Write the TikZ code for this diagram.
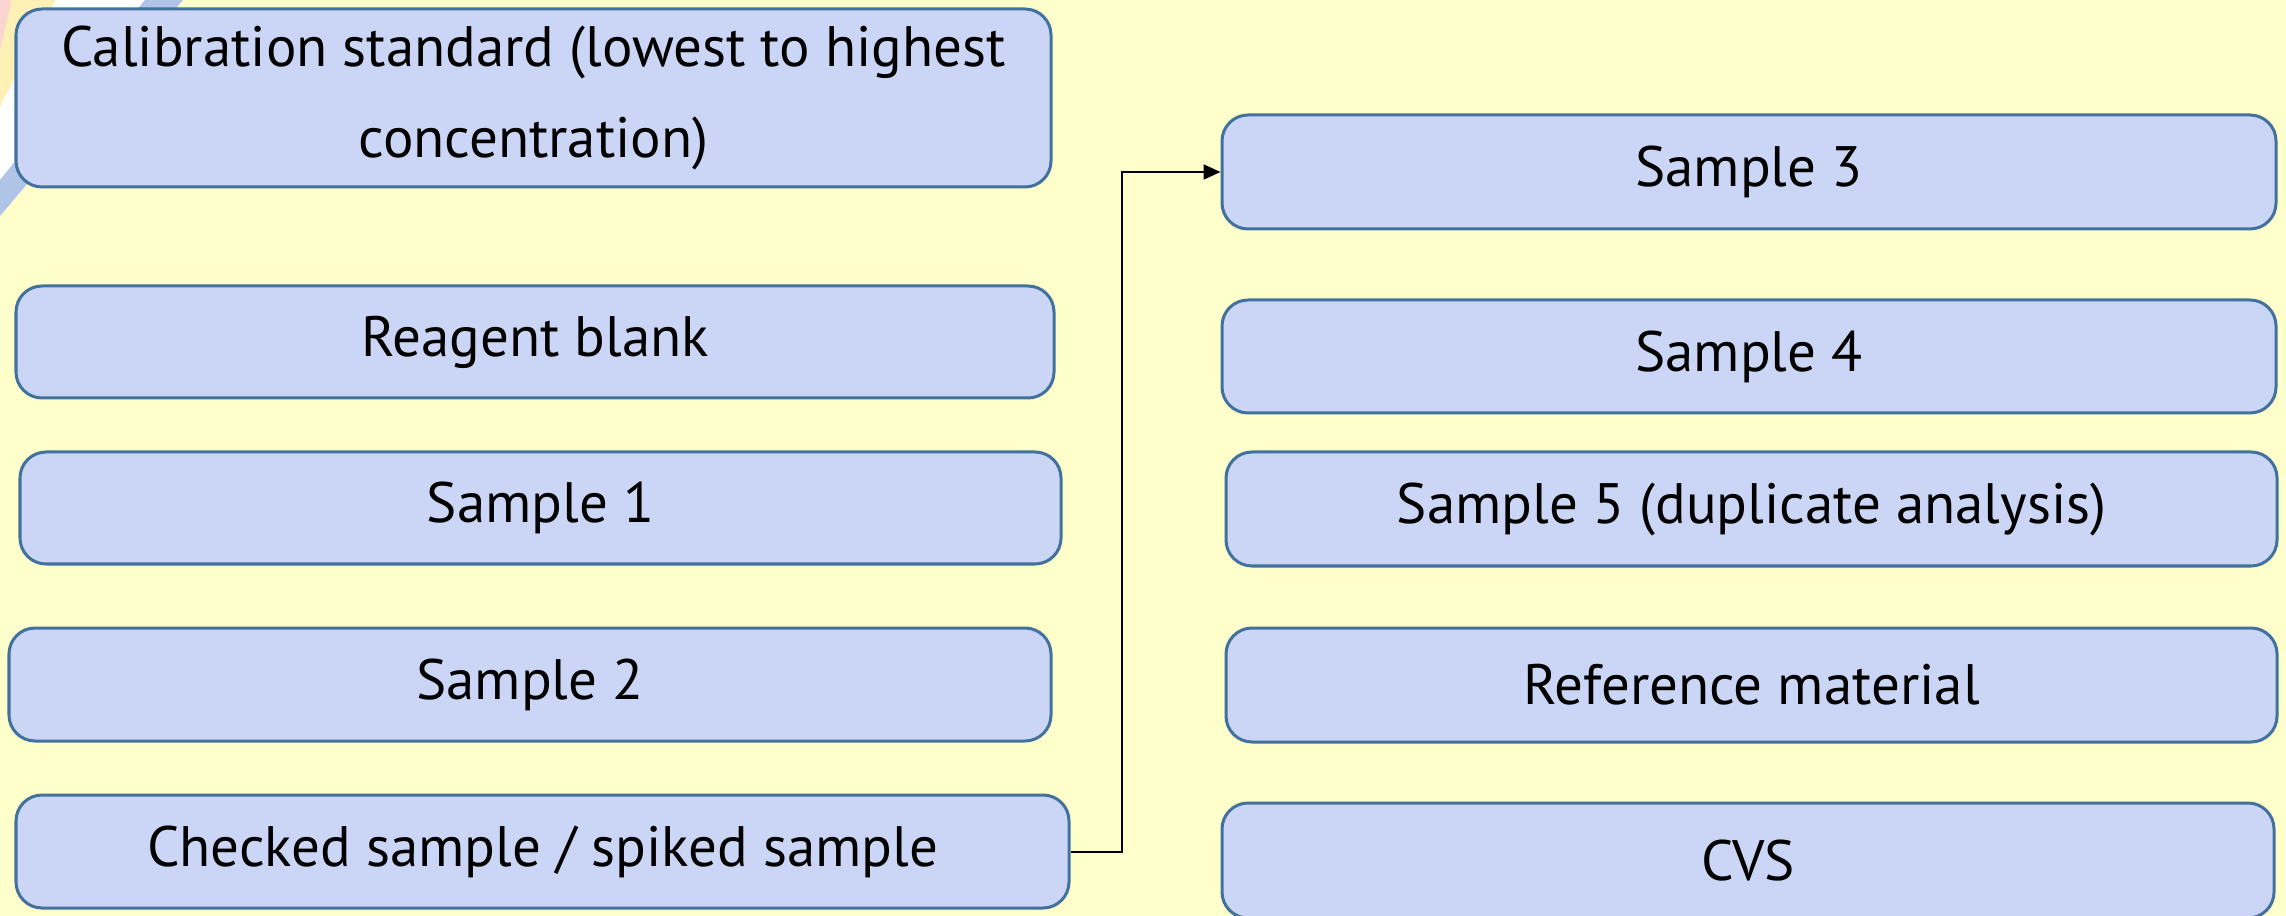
\documentclass[tikz,border=0pt]{standalone}
\usepackage{fontspec}
\setmainfont{PT Sans}
\usetikzlibrary{arrows.meta}
\definecolor{bgyellow}{RGB}{255,255,204}
\definecolor{boxfill}{RGB}{203,214,246}
\definecolor{boxline}{RGB}{65,113,156}
\definecolor{stripepink}{RGB}{251,214,208}
\definecolor{stripeyellow}{RGB}{255,241,181}
\definecolor{stripeblue}{RGB}{175,196,230}
\tikzset{
  itembox/.style={draw=boxline, line width=0.3mm, fill=boxfill, rounded corners=2.6mm,
    inner sep=0pt, align=center, font=\fontsize{16.2}{25.6}\selectfont, anchor=center},
  flowline/.style={line width=0.2mm, -{Triangle[length=1.7mm,width=1.5mm]}}
}
\begin{document}
\begin{tikzpicture}[x=0.01cm,y=-0.01cm]
\useasboundingbox (0,0) rectangle (2286,916);
\clip (0,0) rectangle (2286,916);
\fill[bgyellow] (0,0) rectangle (2286,916);
% decorative stripes at top-left corner
\fill[stripepink] (0,0) -- (12,0) -- (0,52) -- cycle;
\fill[stripeyellow] (12,0) -- (56,0) -- (0,107) -- (0,52) -- cycle;
\fill[white] (56,0) -- (145,0) -- (0,180) -- (0,107) -- cycle;
\fill[stripeblue] (145,0) -- (183,0) -- (0,216) -- (0,180) -- cycle;
% left column
\node[itembox, minimum width=1035*0.01cm, minimum height=178*0.01cm] (cal) at (533.5,98)
  {Calibration standard (lowest to highest\\concentration)};
\node[itembox, minimum width=1038*0.01cm, minimum height=112*0.01cm] (reag) at (535,342) {Reagent blank};
\node[itembox, minimum width=1041*0.01cm, minimum height=112*0.01cm] (s1) at (540.5,508) {Sample 1};
\node[itembox, minimum width=1042*0.01cm, minimum height=113*0.01cm] (s2) at (530,684.5) {Sample 2};
\node[itembox, minimum width=1053*0.01cm, minimum height=113*0.01cm] (chk) at (542.5,851.5) {Checked sample / spiked sample};
% right column
\node[itembox, minimum width=1054*0.01cm, minimum height=114*0.01cm] (s3) at (1749,172) {Sample 3};
\node[itembox, minimum width=1054*0.01cm, minimum height=113*0.01cm] (s4) at (1749,356.5) {Sample 4};
\node[itembox, minimum width=1051*0.01cm, minimum height=114*0.01cm] (s5) at (1751.5,509) {Sample 5 (duplicate analysis)};
\node[itembox, minimum width=1051*0.01cm, minimum height=114*0.01cm] (ref) at (1751.5,685) {Reference material};
\node[itembox, minimum width=1052*0.01cm, minimum height=115*0.01cm] (cvs) at (1748,860.5) {CVS};
% connector
\draw[flowline] (chk.east) -- ++(51,0) |- (s3.west);
\end{tikzpicture}
\end{document}
